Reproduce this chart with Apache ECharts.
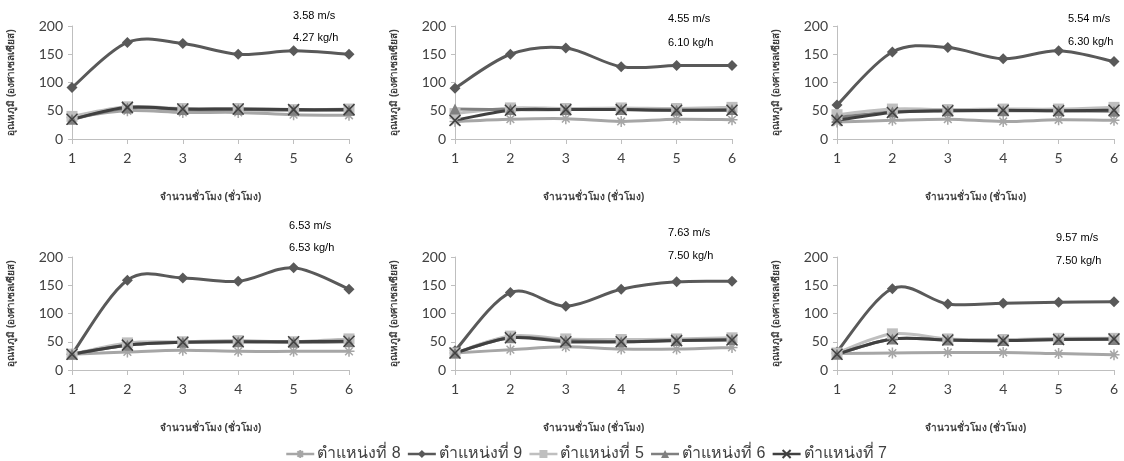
<!DOCTYPE html>
<html><head><meta charset="utf-8">
<script src="https://cdn.jsdelivr.net/npm/echarts@6/dist/echarts.min.js"></script>
<style>html,body{margin:0;padding:0;background:#fff}#c{width:1124px;height:461px}</style>
</head><body><div id="c"></div>
<script>
const hours = ['1','2','3','4','5','6'];
const yTicks = [0, 50, 100, 150, 200];
const seriesNames = ['ตำแหน่งที่ 8','ตำแหน่งที่ 9','ตำแหน่งที่ 5','ตำแหน่งที่ 6','ตำแหน่งที่ 7'];
const windSpeed = ['3.58 m/s','4.55 m/s','5.54 m/s','6.53 m/s','7.63 m/s','9.57 m/s'];
const feedRate = ['4.27 kg/h','6.10 kg/h','6.30 kg/h','6.53 kg/h','7.50 kg/h','7.50 kg/h'];
const xTitle = 'จำนวนชั่วโมง (ชั่วโมง)';
const yTitle = 'อุณหภูมิ (องศาเซลเซียส)';
// values per panel (panel 1..6)
const pos8 = [
  [38, 50, 47, 47, 43, 42],
  [31, 35, 36, 31, 35, 34],
  [30, 33, 35, 31, 34, 33],
  [28, 32, 35, 33, 33, 33],
  [30, 36, 41, 37, 37, 40],
  [29, 30, 31, 31, 29, 27]
];
const pos9 = [
  [91, 171, 169, 150, 156, 150],
  [90, 150, 161, 128, 130, 130],
  [60, 154, 162, 142, 156, 137],
  [28, 159, 163, 157, 181, 143],
  [34, 137, 113, 143, 156, 157],
  [32, 144, 117, 118, 120, 121]
];
const pos5 = [
  [40, 57, 54, 54, 52, 53],
  [45, 55, 54, 55, 54, 56],
  [43, 53, 52, 53, 53, 56],
  [28, 48, 50, 52, 50, 55],
  [30, 60, 55, 54, 55, 57],
  [30, 64, 55, 54, 56, 56]
];
const pos6 = [
  [35, 55, 52, 52, 51, 51],
  [53, 52, 52, 52, 51, 52],
  [38, 48, 50, 50, 50, 49],
  [28, 44, 49, 50, 49, 50],
  [30, 57, 52, 50, 52, 54],
  [28, 55, 53, 52, 54, 54]
];
const pos7 = [
  [35, 56, 53, 53, 52, 52],
  [33, 51, 52, 52, 51, 51],
  [33, 47, 50, 51, 50, 51],
  [28, 44, 49, 50, 50, 51],
  [30, 57, 50, 50, 52, 53],
  [28, 55, 53, 52, 54, 55]
];

const allData = [pos8, pos9, pos5, pos6, pos7];
const colors = ['#a6a6a6', '#595959', '#bfbfbf', '#808080', '#404040'];
const star = 'path://M0,5 L10,5 M5,0 L5,10 M1.5,1.5 L8.5,8.5 M8.5,1.5 L1.5,8.5';
const cross = 'path://M0,0 L10,10 M10,0 L0,10';
const symbols = [star, 'diamond', 'rect', 'triangle', cross];
const symSizes = [11, 11, 11, 11, 11];

const lefts = [72, 455, 837];
const tops = [26, 257];
const W = 277, H = 113;

// Excel-like smoothed curve (Catmull-Rom converted to cubic Bezier) through library coords
function smoothPath(pts) {
  let d = 'M' + pts[0][0] + ',' + pts[0][1];
  for (let i = 0; i < pts.length - 1; i++) {
    const p0 = pts[Math.max(i - 1, 0)], p1 = pts[i], p2 = pts[i + 1], p3 = pts[Math.min(i + 2, pts.length - 1)];
    const t = 1 / 6;
    const c1 = [p1[0] + (p2[0] - p0[0]) * t, p1[1] + (p2[1] - p0[1]) * t];
    const c2 = [p2[0] - (p3[0] - p1[0]) * t, p2[1] - (p3[1] - p1[1]) * t];
    d += 'C' + c1[0] + ',' + c1[1] + ' ' + c2[0] + ',' + c2[1] + ' ' + p2[0] + ',' + p2[1];
  }
  return d;
}

const grids = [], xAxes = [], yAxes = [], series = [], graphics = [];
const font = 'Lato, "Liberation Sans", sans-serif';
for (let p = 0; p < 6; p++) {
  const col = p % 3, row = Math.floor(p / 3);
  grids.push({left: lefts[col], top: tops[row], width: W, height: H});
  xAxes.push({
    type: 'category', gridIndex: p, data: hours, boundaryGap: false,
    axisLine: {lineStyle: {color: '#bfbfbf', width: 1}},
    axisTick: {show: true, alignWithLabel: true, length: 5, lineStyle: {color: '#bfbfbf'}},
    axisLabel: {color: '#404040', fontSize: 14, margin: 12, fontFamily: font},
    name: xTitle, nameLocation: 'middle', nameGap: 53,
    nameTextStyle: {color: '#404040', fontSize: 10, fontWeight: 'bold'}
  });
  yAxes.push({
    type: 'value', gridIndex: p, min: yTicks[0], max: yTicks[yTicks.length - 1], interval: 50,
    axisLine: {show: true, lineStyle: {color: '#bfbfbf', width: 1}},
    axisTick: {show: true, length: 4, lineStyle: {color: '#bfbfbf'}},
    splitLine: {show: false},
    axisLabel: {color: '#404040', fontSize: 14, margin: 9, fontFamily: font},
    name: yTitle, nameLocation: 'middle', nameGap: 56, nameRotate: 90,
    nameTextStyle: {color: '#404040', fontSize: 10, fontWeight: 'bold'}
  });
  for (let s = 0; s < 5; s++) {
    const vals = allData[s][p];
    // smoothed line drawn from the data through the axis scales
    series.push({
      type: 'custom', xAxisIndex: p, yAxisIndex: p, silent: true, z: 2 + s,
      data: vals.map((v, i) => [i, v]),
      encode: {x: 0, y: 1},
      renderItem: (params, api) => {
        if (params.dataIndex !== 0) return null;
        const pts = vals.map((v, i) => api.coord([i, v]));
        return {type: 'path', shape: {pathData: smoothPath(pts)},
          style: {fill: null, stroke: colors[s], lineWidth: 3}};
      }
    });
  }
  for (let s = 0; s < 5; s++) {
    const isPath = symbols[s].startsWith('path');
    series.push({
      name: seriesNames[s], type: 'line', xAxisIndex: p, yAxisIndex: p,
      data: allData[s][p],
      symbol: symbols[s], symbolSize: symSizes[s],
      lineStyle: {color: colors[s], width: 0},
      itemStyle: isPath ? {color: colors[s], borderColor: colors[s], borderWidth: 1.5} : {color: colors[s]},
      emphasis: {disabled: true}, z: 10 + s
    });
  }
}
const annX = [293, 668, 1068, 289, 668, 1056];
const annY1 = [17, 20, 20, 227, 234, 239];
const annY2 = [39, 44, 43, 249, 257, 262];
for (let p = 0; p < 6; p++) {
  graphics.push({type: 'text', left: annX[p], top: annY1[p] - 7,
    style: {text: windSpeed[p], fill: '#000', font: '11px Arial, "Liberation Sans", sans-serif'}});
  graphics.push({type: 'text', left: annX[p], top: annY2[p] - 7,
    style: {text: feedRate[p], fill: '#000', font: '11px Arial, "Liberation Sans", sans-serif'}});
}

const chart = echarts.init(document.getElementById('c'));
chart.setOption({
  animation: false,
  backgroundColor: '#fff',
  grid: grids, xAxis: xAxes, yAxis: yAxes, series: series,
  graphic: graphics,
  legend: {
    data: seriesNames.map((n, i) => ({name: n})),
    top: 441, left: 280, itemWidth: 28, itemHeight: 10, itemGap: 6,
    lineStyle: {width: 2.5},
    textStyle: {fontSize: 16, color: '#404040', padding: [0, 0, 0, -2]}
  }
});
</script>
</body></html>
